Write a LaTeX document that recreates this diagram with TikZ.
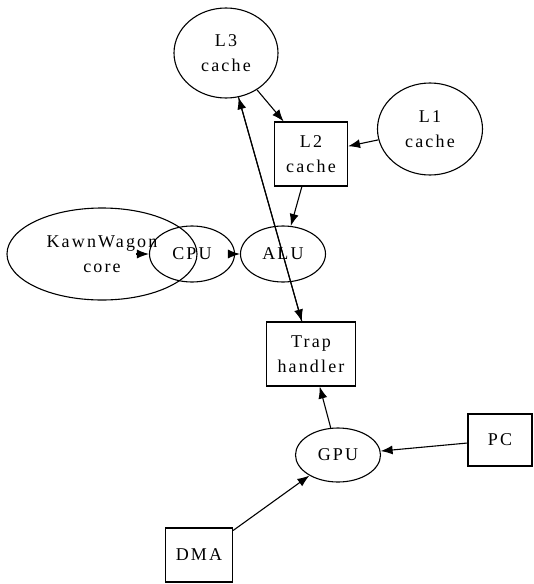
\documentclass[tikz,border=0pt]{standalone}
\usepackage{fontspec}
\setmainfont{Liberation Serif}[LetterSpace=12]
\usetikzlibrary{shapes.geometric,arrows.meta}

\begin{document}
\begin{tikzpicture}[
		x=1pt, y=-1pt,
		every node/.style={draw, line width=1.1pt, inner sep=0pt, align=center, font=\fontsize{18}{25}\selectfont},
		oval/.style={ellipse},
		box/.style={rectangle},
		arr/.style={-{Latex[length=12pt,width=9pt]}, line width=1.1pt}
	]
  \useasboundingbox (0,0) rectangle (534,584);
  \node (l3) [oval, minimum width=104pt, minimum height=90pt] at (226,53) {L3\\cache};
  \node (l2) [box, minimum width=73pt, minimum height=64pt] at (311,154) {L2\\cache};
  \node (l1) [oval, minimum width=105pt, minimum height=92pt] at (430,129) {L1\\cache};
  \node (core) [oval, minimum width=190pt, minimum height=92pt] at (102,254) {KawnWagon\\core};
  \node (cpu) [oval, minimum width=85pt, minimum height=56pt] at (192,254) {CPU};
  \node (alu) [oval, minimum width=85pt, minimum height=56pt] at (283,254) {ALU};
  \node (trap) [box, minimum width=89pt, minimum height=64pt] at (311,354) {Trap\\handler};
  \node (gpu) [oval, minimum width=85pt, minimum height=54pt] at (338,455) {GPU};
  \node (pc) [box, minimum width=64pt, minimum height=52pt] at (500,440) {PC};
  \node (dma) [box, minimum width=67pt, minimum height=54pt] at (199,555) {DMA};
  \draw[arr] (l3) -- (l2);
  \draw[arr] (l1) -- (l2);
  \draw[arr] (l2) -- (alu);
  \draw[arr] ([xshift=-13pt]cpu.west) -- (cpu.west);
  \draw[arr] (cpu) -- (alu);
  \draw[arr] (l3) -- (trap);
  \draw[arr] (trap) -- (l3);
  \draw[arr] (gpu) -- (trap);
  \draw[arr] (pc) -- (gpu);
  \draw[arr] (dma) -- (gpu);
\end{tikzpicture}
\end{document}
